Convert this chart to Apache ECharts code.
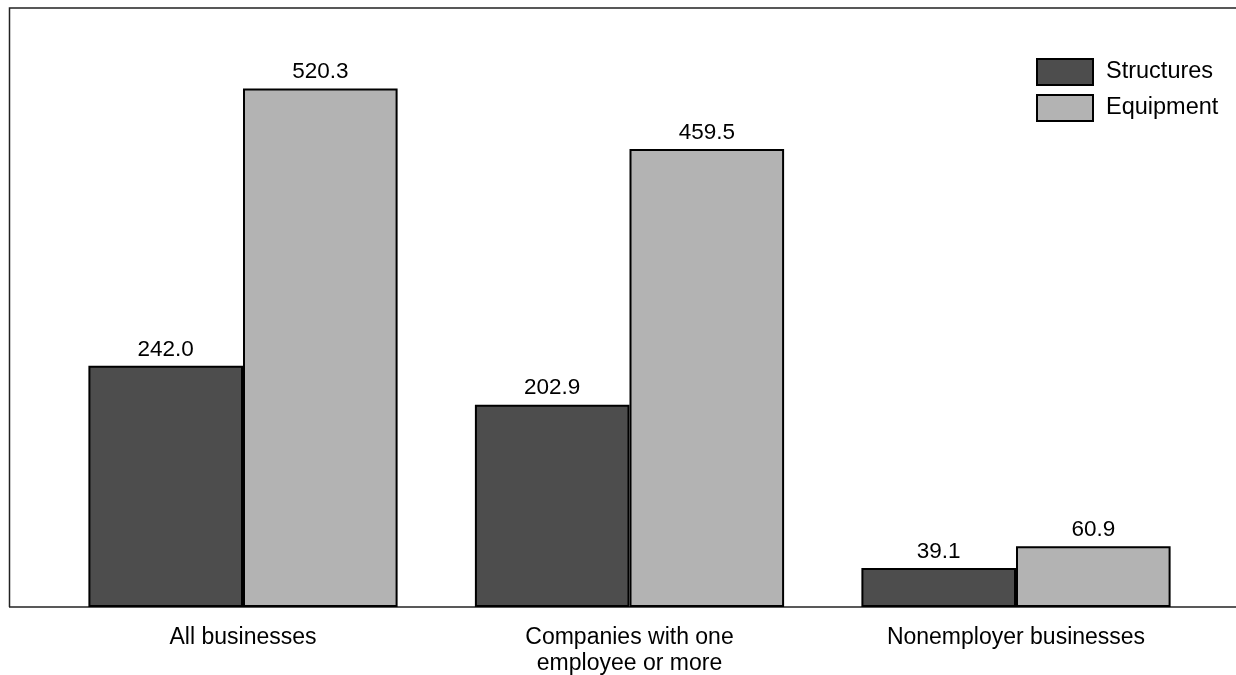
<!DOCTYPE html>
<html>
<head>
<meta charset="utf-8">
<style>
  html, body { margin: 0; padding: 0; background: #ffffff; }
  #chart { width: 1236px; height: 675px; }
</style>
<script src="https://cdn.jsdelivr.net/npm/echarts@6/dist/echarts.min.js"></script>
</head>
<body>
<div id="chart"></div>
<script>
// Business investment in structures and equipment, by type of business
const categories = ['All businesses', 'Companies with one\nemployee or more', 'Nonemployer businesses'];
const structures = [242.0, 202.9, 39.1];
const equipment = [520.3, 459.5, 60.9];
const seriesNames = ['Structures', 'Equipment'];

const FONT = '"Liberation Sans", Arial, Helvetica, sans-serif';

const chart = echarts.init(document.getElementById('chart'), null, { renderer: 'canvas' });

const barLabel = {
  show: true,
  position: 'top',
  distance: 5,
  fontFamily: FONT,
  fontSize: 22.5,
  color: '#000',
  formatter: p => p.value.toFixed(1)
};

chart.setOption({
  animation: false,
  backgroundColor: '#ffffff',
  grid: { left: 49.75, right: 26.75, top: 8, bottom: 68, outerBoundsMode: 'none', containLabel: false },
  legend: {
    orient: 'vertical',
    left: 1036,
    top: 58,
    padding: 0,
    itemWidth: 56,
    itemHeight: 26,
    itemGap: 8,
    icon: 'rect',
    textStyle: { fontFamily: FONT, fontSize: 23.5, color: '#000', padding: [0, 0, 0, 8] },
    data: seriesNames
  },
  xAxis: {
    type: 'category',
    data: categories,
    axisLine: { show: false },
    axisTick: { show: false },
    axisLabel: {
      margin: 18,
      fontFamily: FONT,
      fontSize: 23,
      lineHeight: 26,
      color: '#000'
    }
  },
  yAxis: {
    type: 'value',
    min: 0,
    max: 601,
    show: false,
    splitLine: { show: false }
  },
  series: [
    {
      name: seriesNames[0],
      type: 'bar',
      data: structures,
      barGap: '0%',
      barCategoryGap: '20%',
      itemStyle: { color: '#4d4d4d', borderColor: '#000', borderWidth: 2 },
      label: barLabel
    },
    {
      name: seriesNames[1],
      type: 'bar',
      data: equipment,
      barGap: '0%',
      barCategoryGap: '20%',
      itemStyle: { color: '#b3b3b3', borderColor: '#000', borderWidth: 2 },
      label: barLabel
    }
  ],
  graphic: [
    {
      // left and top edges of the plot frame
      type: 'polyline',
      silent: true,
      shape: { points: [[9.5, 607], [9.5, 8], [1236, 8]] },
      style: { stroke: '#222', lineWidth: 1.5, fill: null },
      z: 1
    },
    {
      // baseline running across the full frame width
      type: 'line',
      silent: true,
      shape: { x1: 9, y1: 607, x2: 1236, y2: 607 },
      style: { stroke: '#222', lineWidth: 1.5 },
      z: 1
    }
  ]
});
</script>
</body>
</html>
